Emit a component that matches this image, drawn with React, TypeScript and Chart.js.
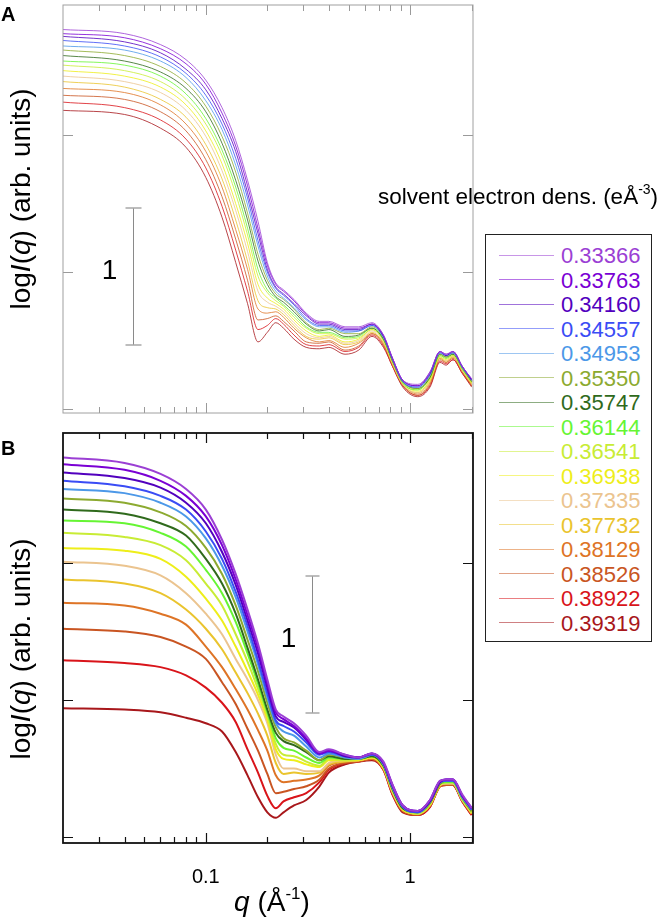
import React, { useEffect, useRef } from "react";
import { Chart, registerables } from "chart.js";

Chart.register(...registerables);

// ---------- data ----------
const Q = [0.02, 0.04, 0.06, 0.08, 0.10, 0.12, 0.14, 0.16, 0.18, 0.20, 0.22, 0.24, 0.27, 0.31, 0.36, 0.40, 0.48, 0.56, 0.65, 0.74, 0.82, 0.92, 1.09, 1.25, 1.40, 1.50, 1.62, 1.80, 2.0];

const DENSITIES = ["0.33366", "0.33763", "0.34160", "0.34557", "0.34953", "0.35350", "0.35747", "0.36144", "0.36541", "0.36938", "0.37335", "0.37732", "0.38129", "0.38526", "0.38922", "0.39319"];

const COLORS = ["#9B3FD4", "#7A00D4", "#5200BE", "#3A4CF5", "#4C98E8", "#8CAA30", "#2F6A1C", "#66F533", "#C8EC35", "#EEEE1A", "#EBC48F", "#EAC42E", "#DE7426", "#C95522", "#D9141A", "#A8171B"];

// Panel A: model curves, log I(q)
const A01 = [2.77, 2.74, 2.66, 2.55, 2.40, 2.20, 1.96, 1.67, 1.37, 1.07, 0.92, 0.87, 0.80, 0.70, 0.64, 0.64, 0.60, 0.60, 0.63, 0.54, 0.37, 0.21, 0.18, 0.27, 0.42, 0.40, 0.42, 0.31, 0.22];
const A02 = [2.74, 2.71, 2.63, 2.52, 2.37, 2.16, 1.92, 1.63, 1.32, 1.05, 0.91, 0.86, 0.79, 0.69, 0.63, 0.63, 0.59, 0.59, 0.62, 0.54, 0.37, 0.21, 0.17, 0.27, 0.42, 0.40, 0.42, 0.31, 0.22];
const A03 = [2.72, 2.68, 2.60, 2.48, 2.33, 2.12, 1.88, 1.58, 1.28, 1.02, 0.89, 0.84, 0.77, 0.68, 0.62, 0.62, 0.58, 0.58, 0.62, 0.53, 0.37, 0.21, 0.17, 0.26, 0.42, 0.39, 0.42, 0.31, 0.21];
const A04 = [2.69, 2.65, 2.57, 2.45, 2.29, 2.08, 1.83, 1.54, 1.23, 1.00, 0.88, 0.83, 0.76, 0.66, 0.61, 0.61, 0.57, 0.57, 0.61, 0.53, 0.36, 0.20, 0.16, 0.25, 0.41, 0.39, 0.41, 0.31, 0.21];
const A05 = [2.65, 2.62, 2.54, 2.42, 2.25, 2.04, 1.78, 1.49, 1.19, 0.97, 0.86, 0.81, 0.74, 0.65, 0.60, 0.60, 0.56, 0.57, 0.61, 0.52, 0.36, 0.20, 0.16, 0.25, 0.41, 0.39, 0.41, 0.30, 0.21];
const A06 = [2.62, 2.58, 2.50, 2.38, 2.21, 1.99, 1.73, 1.43, 1.13, 0.94, 0.84, 0.80, 0.73, 0.63, 0.58, 0.59, 0.55, 0.55, 0.60, 0.52, 0.35, 0.20, 0.15, 0.24, 0.40, 0.38, 0.41, 0.30, 0.20];
const A07 = [2.58, 2.54, 2.46, 2.34, 2.17, 1.94, 1.67, 1.38, 1.08, 0.91, 0.82, 0.78, 0.71, 0.62, 0.57, 0.58, 0.53, 0.54, 0.59, 0.51, 0.35, 0.20, 0.15, 0.23, 0.40, 0.38, 0.40, 0.30, 0.20];
const A08 = [2.54, 2.51, 2.43, 2.30, 2.12, 1.89, 1.62, 1.32, 1.02, 0.87, 0.81, 0.76, 0.69, 0.60, 0.56, 0.56, 0.52, 0.53, 0.59, 0.51, 0.35, 0.19, 0.14, 0.23, 0.39, 0.37, 0.40, 0.29, 0.20];
const A09 = [2.51, 2.47, 2.39, 2.26, 2.08, 1.85, 1.57, 1.27, 0.97, 0.85, 0.79, 0.75, 0.67, 0.59, 0.55, 0.55, 0.51, 0.52, 0.58, 0.50, 0.34, 0.19, 0.14, 0.22, 0.39, 0.37, 0.39, 0.29, 0.19];
const A10 = [2.47, 2.43, 2.35, 2.22, 2.03, 1.79, 1.50, 1.21, 0.91, 0.81, 0.77, 0.73, 0.65, 0.57, 0.53, 0.54, 0.49, 0.51, 0.58, 0.50, 0.34, 0.19, 0.13, 0.21, 0.38, 0.36, 0.39, 0.29, 0.19];
const A11 = [2.43, 2.39, 2.31, 2.18, 1.99, 1.74, 1.45, 1.15, 0.86, 0.78, 0.75, 0.71, 0.63, 0.55, 0.52, 0.53, 0.48, 0.50, 0.57, 0.49, 0.33, 0.18, 0.12, 0.21, 0.38, 0.35, 0.39, 0.28, 0.19];
const A12 = [2.39, 2.35, 2.26, 2.13, 1.93, 1.68, 1.38, 1.08, 0.79, 0.74, 0.73, 0.69, 0.61, 0.53, 0.51, 0.52, 0.47, 0.49, 0.56, 0.48, 0.33, 0.18, 0.12, 0.20, 0.37, 0.35, 0.38, 0.28, 0.18];
const A13 = [2.34, 2.31, 2.22, 2.08, 1.88, 1.62, 1.31, 1.02, 0.73, 0.70, 0.71, 0.67, 0.59, 0.52, 0.49, 0.50, 0.45, 0.48, 0.55, 0.48, 0.32, 0.18, 0.11, 0.19, 0.37, 0.34, 0.38, 0.27, 0.18];
const A14 = [2.29, 2.26, 2.17, 2.03, 1.82, 1.55, 1.24, 0.94, 0.65, 0.66, 0.68, 0.64, 0.57, 0.49, 0.48, 0.49, 0.43, 0.46, 0.55, 0.47, 0.32, 0.17, 0.10, 0.18, 0.36, 0.34, 0.37, 0.27, 0.17];
const A15 = [2.24, 2.20, 2.11, 1.97, 1.76, 1.48, 1.16, 0.86, 0.58, 0.61, 0.66, 0.62, 0.54, 0.47, 0.46, 0.47, 0.42, 0.45, 0.54, 0.46, 0.31, 0.17, 0.10, 0.17, 0.35, 0.33, 0.36, 0.26, 0.17];
const A16 = [2.18, 2.15, 2.05, 1.91, 1.69, 1.40, 1.07, 0.77, 0.49, 0.56, 0.63, 0.59, 0.51, 0.45, 0.44, 0.45, 0.40, 0.43, 0.53, 0.45, 0.31, 0.16, 0.09, 0.16, 0.34, 0.32, 0.36, 0.26, 0.16];

// Panel B: measured curves, log I(q)
const B01 = [2.77, 2.73, 2.65, 2.54, 2.39, 2.17, 1.92, 1.66, 1.41, 1.15, 0.93, 0.88, 0.83, 0.74, 0.62, 0.64, 0.60, 0.58, 0.61, 0.55, 0.38, 0.23, 0.19, 0.27, 0.41, 0.42, 0.42, 0.31, 0.21];
const B02 = [2.72, 2.68, 2.60, 2.49, 2.34, 2.13, 1.88, 1.62, 1.38, 1.12, 0.91, 0.86, 0.81, 0.72, 0.61, 0.63, 0.60, 0.58, 0.61, 0.54, 0.38, 0.23, 0.19, 0.27, 0.41, 0.42, 0.42, 0.30, 0.21];
const B03 = [2.66, 2.62, 2.55, 2.44, 2.29, 2.08, 1.84, 1.58, 1.34, 1.09, 0.88, 0.84, 0.80, 0.71, 0.61, 0.63, 0.59, 0.58, 0.61, 0.54, 0.37, 0.23, 0.19, 0.26, 0.40, 0.42, 0.42, 0.30, 0.21];
const B04 = [2.60, 2.56, 2.49, 2.39, 2.23, 2.03, 1.79, 1.54, 1.29, 1.05, 0.85, 0.81, 0.77, 0.69, 0.60, 0.62, 0.59, 0.58, 0.60, 0.54, 0.37, 0.22, 0.18, 0.26, 0.40, 0.41, 0.41, 0.30, 0.20];
const B05 = [2.54, 2.51, 2.44, 2.34, 2.18, 1.98, 1.75, 1.50, 1.26, 1.02, 0.83, 0.77, 0.74, 0.66, 0.58, 0.61, 0.58, 0.57, 0.60, 0.53, 0.36, 0.22, 0.18, 0.26, 0.40, 0.41, 0.41, 0.29, 0.20];
const B06 = [2.47, 2.44, 2.37, 2.27, 2.11, 1.92, 1.69, 1.44, 1.21, 0.98, 0.80, 0.72, 0.69, 0.63, 0.56, 0.60, 0.58, 0.57, 0.60, 0.53, 0.36, 0.22, 0.18, 0.25, 0.39, 0.41, 0.41, 0.29, 0.19];
const B07 = [2.39, 2.36, 2.29, 2.20, 2.03, 1.85, 1.63, 1.38, 1.15, 0.93, 0.76, 0.70, 0.67, 0.62, 0.56, 0.59, 0.57, 0.57, 0.59, 0.52, 0.35, 0.21, 0.18, 0.25, 0.39, 0.41, 0.41, 0.29, 0.19];
const B08 = [2.31, 2.29, 2.22, 2.12, 1.95, 1.78, 1.57, 1.34, 1.12, 0.91, 0.72, 0.65, 0.63, 0.58, 0.54, 0.58, 0.57, 0.57, 0.59, 0.52, 0.35, 0.21, 0.18, 0.25, 0.39, 0.40, 0.40, 0.28, 0.19];
const B09 = [2.22, 2.19, 2.13, 2.02, 1.85, 1.69, 1.48, 1.28, 1.08, 0.89, 0.68, 0.60, 0.59, 0.55, 0.52, 0.57, 0.56, 0.57, 0.59, 0.52, 0.34, 0.21, 0.17, 0.24, 0.39, 0.40, 0.40, 0.28, 0.18];
const B10 = [2.11, 2.09, 2.03, 1.90, 1.74, 1.58, 1.39, 1.21, 1.04, 0.86, 0.64, 0.57, 0.56, 0.53, 0.51, 0.56, 0.56, 0.56, 0.58, 0.51, 0.34, 0.20, 0.17, 0.24, 0.38, 0.40, 0.40, 0.28, 0.18];
const B11 = [2.01, 1.98, 1.91, 1.78, 1.63, 1.48, 1.30, 1.15, 1.00, 0.83, 0.60, 0.50, 0.50, 0.48, 0.48, 0.54, 0.56, 0.56, 0.58, 0.51, 0.33, 0.20, 0.17, 0.24, 0.38, 0.39, 0.39, 0.27, 0.18];
const B12 = [1.88, 1.85, 1.78, 1.66, 1.52, 1.37, 1.20, 1.05, 0.90, 0.74, 0.54, 0.46, 0.47, 0.46, 0.47, 0.53, 0.55, 0.56, 0.58, 0.50, 0.33, 0.20, 0.17, 0.23, 0.38, 0.39, 0.39, 0.27, 0.17];
const B13 = [1.71, 1.69, 1.63, 1.55, 1.39, 1.24, 1.08, 0.93, 0.78, 0.63, 0.45, 0.40, 0.41, 0.42, 0.45, 0.52, 0.55, 0.56, 0.57, 0.50, 0.32, 0.19, 0.17, 0.23, 0.37, 0.39, 0.39, 0.27, 0.17];
const B14 = [1.52, 1.50, 1.46, 1.39, 1.30, 1.13, 0.97, 0.79, 0.63, 0.46, 0.32, 0.33, 0.35, 0.37, 0.42, 0.50, 0.54, 0.55, 0.57, 0.50, 0.32, 0.19, 0.16, 0.23, 0.37, 0.38, 0.38, 0.26, 0.17];
const B15 = [1.29, 1.27, 1.24, 1.18, 1.09, 0.98, 0.84, 0.64, 0.47, 0.30, 0.21, 0.26, 0.29, 0.32, 0.40, 0.49, 0.54, 0.55, 0.57, 0.49, 0.31, 0.19, 0.16, 0.22, 0.37, 0.38, 0.38, 0.26, 0.16];
const B16 = [0.94, 0.93, 0.91, 0.87, 0.83, 0.77, 0.62, 0.45, 0.29, 0.18, 0.14, 0.18, 0.23, 0.27, 0.37, 0.47, 0.53, 0.55, 0.56, 0.49, 0.31, 0.18, 0.16, 0.22, 0.37, 0.38, 0.38, 0.26, 0.16];

const SERIES_A = [A01, A02, A03, A04, A05, A06, A07, A08, A09, A10, A11, A12, A13, A14, A15, A16];
const SERIES_B = [B01, B02, B03, B04, B05, B06, B07, B08, B09, B10, B11, B12, B13, B14, B15, B16];

// axes
const X_MIN = 0.02;
const X_MAX = 2.03;
const Y_MIN_A = -0.029;
const Y_MAX_A = 2.949;
const Y_MIN_B = -0.044;
const Y_MAX_B = 2.949;
const Y_TICKS = [0, 1, 2];
const X_MAJOR = [0.1, 1];
const X_MAJOR_LABELS = ["0.1", "1"];
const X_MINOR = [0.03, 0.04, 0.05, 0.06, 0.07, 0.08, 0.09, 0.2, 0.3, 0.4, 0.5, 0.6, 0.7, 0.8, 0.9, 2];

// scale bars: one decade of intensity
const BAR_A = { q: 0.0438, from: 0.467, to: 1.467, label: "1" };
const BAR_B = { q: 0.331, from: 0.905, to: 1.905, label: "1" };

const FONT = '"Liberation Sans", Arial, Helvetica, sans-serif';

function rgba(hex: string, a: number) {
  const n = parseInt(hex.slice(1), 16);
  return `rgba(${(n >> 16) & 255},${(n >> 8) & 255},${n & 255},${a})`;
}

type DecorCfg = {
  frameColor: string;
  frameWidth: number;
  tickColor: string;
  tickWidth: number;
  bar: { q: number; from: number; to: number; label: string };
  capHalf: number;
  showXLabels: boolean;
};

function decorPlugin(id: string, cfg: DecorCfg) {
  return {
    id,
    afterDatasetsDraw(chart: any) {
      const { ctx, chartArea: a, scales } = chart;
      const xs = scales.x;
      const ys = scales.y;
      ctx.save();
      // ticks (inward, all four sides)
      ctx.strokeStyle = cfg.tickColor;
      ctx.lineWidth = cfg.tickWidth;
      ctx.beginPath();
      const xt = (q: number, len: number) => {
        const px = Math.round(xs.getPixelForValue(q)) + 0.5;
        ctx.moveTo(px, a.bottom);
        ctx.lineTo(px, a.bottom - len);
        ctx.moveTo(px, a.top);
        ctx.lineTo(px, a.top + len);
      };
      X_MAJOR.forEach((q) => xt(q, 10));
      X_MINOR.forEach((q) => xt(q, 6));
      Y_TICKS.forEach((v) => {
        const py = Math.round(ys.getPixelForValue(v)) + 0.5;
        ctx.moveTo(a.left, py);
        ctx.lineTo(a.left + 10, py);
        ctx.moveTo(a.right, py);
        ctx.lineTo(a.right - 10, py);
      });
      ctx.stroke();
      // frame
      ctx.strokeStyle = cfg.frameColor;
      ctx.lineWidth = cfg.frameWidth;
      ctx.strokeRect(a.left, a.top, a.right - a.left, a.bottom - a.top);
      // scale bar
      const bx = Math.round(xs.getPixelForValue(cfg.bar.q)) + 0.5;
      const y0 = ys.getPixelForValue(cfg.bar.from);
      const y1 = ys.getPixelForValue(cfg.bar.to);
      ctx.strokeStyle = "#8a8a8a";
      ctx.lineWidth = 1;
      ctx.beginPath();
      ctx.moveTo(bx, y0);
      ctx.lineTo(bx, y1);
      ctx.stroke();
      ctx.strokeStyle = "#a8a8a8";
      ctx.lineWidth = 1.6;
      ctx.beginPath();
      ctx.moveTo(bx - cfg.capHalf, y0);
      ctx.lineTo(bx + cfg.capHalf, y0);
      ctx.moveTo(bx - cfg.capHalf, y1);
      ctx.lineTo(bx + cfg.capHalf, y1);
      ctx.stroke();
      ctx.fillStyle = "#000";
      ctx.font = `28px ${FONT}`;
      ctx.textAlign = "center";
      ctx.textBaseline = "middle";
      ctx.fillText(cfg.bar.label, bx - 24, (y0 + y1) / 2 - 5);
      // x tick labels
      if (cfg.showXLabels) {
        ctx.font = `20px ${FONT}`;
        ctx.textBaseline = "alphabetic";
        X_MAJOR.forEach((q, i) => {
          ctx.fillText(X_MAJOR_LABELS[i], xs.getPixelForValue(q), a.bottom + 40);
        });
      }
      ctx.restore();
    },
  };
}

function makeChart(
  canvas: HTMLCanvasElement,
  series: number[][],
  panel: "A" | "B"
) {
  const isA = panel === "A";
  return new Chart(canvas, {
    type: "line",
    data: {
      datasets: series.map((arr, i) => ({
        label: DENSITIES[i],
        data: Q.map((q, j) => ({ x: q, y: arr[j] })),
        borderColor: isA ? rgba(COLORS[i], 0.8) : COLORS[i],
        borderWidth: isA ? 1 : 2,
        pointRadius: 0,
        fill: false,
        cubicInterpolationMode: "monotone",
        borderJoinStyle: "round",
      })),
    },
    options: {
      animation: false,
      responsive: false,
      devicePixelRatio: 1,
      events: [],
      layout: {
        padding: isA
          ? { left: 63, right: 188, top: 5, bottom: 510 }
          : { left: 63, right: 188, top: 433, bottom: 80 },
      },
      plugins: { legend: { display: false }, tooltip: { enabled: false } },
      scales: {
        x: { type: "logarithmic", min: X_MIN, max: X_MAX, display: false },
        y: {
          type: "linear",
          min: isA ? Y_MIN_A : Y_MIN_B,
          max: isA ? Y_MAX_A : Y_MAX_B,
          display: false,
        },
      },
    } as any,
    plugins: [
      decorPlugin(
        "decor" + panel,
        isA
          ? {
              frameColor: "#a0a0a0",
              frameWidth: 1,
              tickColor: "#9a9a9a",
              tickWidth: 1,
              bar: BAR_A,
              capHalf: 8,
              showXLabels: false,
            }
          : {
              frameColor: "#111",
              frameWidth: 1.8,
              tickColor: "#111",
              tickWidth: 1.2,
              bar: BAR_B,
              capHalf: 7,
              showXLabels: true,
            }
      ),
    ],
  } as any);
}

const abs = (o: React.CSSProperties): React.CSSProperties => ({
  position: "absolute",
  margin: 0,
  lineHeight: 1,
  whiteSpace: "nowrap",
  fontFamily: FONT,
  color: "#000",
  ...o,
});

export default function App() {
  const refA = useRef<HTMLCanvasElement>(null);
  const refB = useRef<HTMLCanvasElement>(null);

  useEffect(() => {
    document.body.style.margin = "0";
    document.body.style.overflow = "hidden";
    const ca = makeChart(refA.current!, SERIES_A, "A");
    const cb = makeChart(refB.current!, SERIES_B, "B");
    return () => {
      ca.destroy();
      cb.destroy();
    };
  }, []);

  const yTitle = (
    <>
      log<i>I</i>(<i>q</i>) (arb. units)
    </>
  );

  return (
    <div
      style={{
        position: "relative",
        width: 661,
        height: 923,
        overflow: "hidden",
        background: "#fff",
        fontFamily: FONT,
      }}
    >
      <canvas
        ref={refA}
        width={661}
        height={923}
        style={{ position: "absolute", left: 0, top: 0, width: 661, height: 923 }}
      />
      <canvas
        ref={refB}
        width={661}
        height={923}
        style={{ position: "absolute", left: 0, top: 0, width: 661, height: 923 }}
      />

      <div style={abs({ left: 1, top: 4, fontSize: 20, fontWeight: "bold" })}>A</div>
      <div style={abs({ left: 1, top: 438, fontSize: 20, fontWeight: "bold" })}>B</div>

      <div
        style={abs({
          left: 21,
          top: 199,
          fontSize: 28,
          transform: "translate(-50%, -50%) rotate(-90deg)",
        })}
      >
        {yTitle}
      </div>
      <div
        style={abs({
          left: 21,
          top: 649,
          fontSize: 28,
          transform: "translate(-50%, -50%) rotate(-90deg)",
        })}
      >
        {yTitle}
      </div>

      <div style={abs({ left: 272, top: 888, fontSize: 28, transform: "translateX(-50%)" })}>
        <i>q</i> (Å
        <span style={{ fontSize: 17, position: "relative", top: -12 }}>-1</span>)
      </div>

      <div style={abs({ left: 378, top: 186, fontSize: 22.5 })}>
        solvent electron dens. (eÅ
        <span style={{ fontSize: 14, position: "relative", top: -10 }}>-3</span>)
      </div>

      <div
        style={{
          position: "absolute",
          left: 485,
          top: 234,
          width: 165,
          height: 406,
          border: "1.5px solid #222",
          background: "#fff",
        }}
      >
        {DENSITIES.map((d, i) => (
          <div key={d}>
            <div
              style={{
                position: "absolute",
                left: 13,
                top: 19.5 + i * 24.5,
                width: 55,
                height: 0,
                borderTop: `1.5px solid ${rgba(COLORS[i], 0.55)}`,
              }}
            />
            <div
              style={abs({
                left: 75,
                top: 20 + i * 24.5 - 10,
                fontSize: 22,
                color: COLORS[i],
              })}
            >
              {d}
            </div>
          </div>
        ))}
      </div>
    </div>
  );
}
